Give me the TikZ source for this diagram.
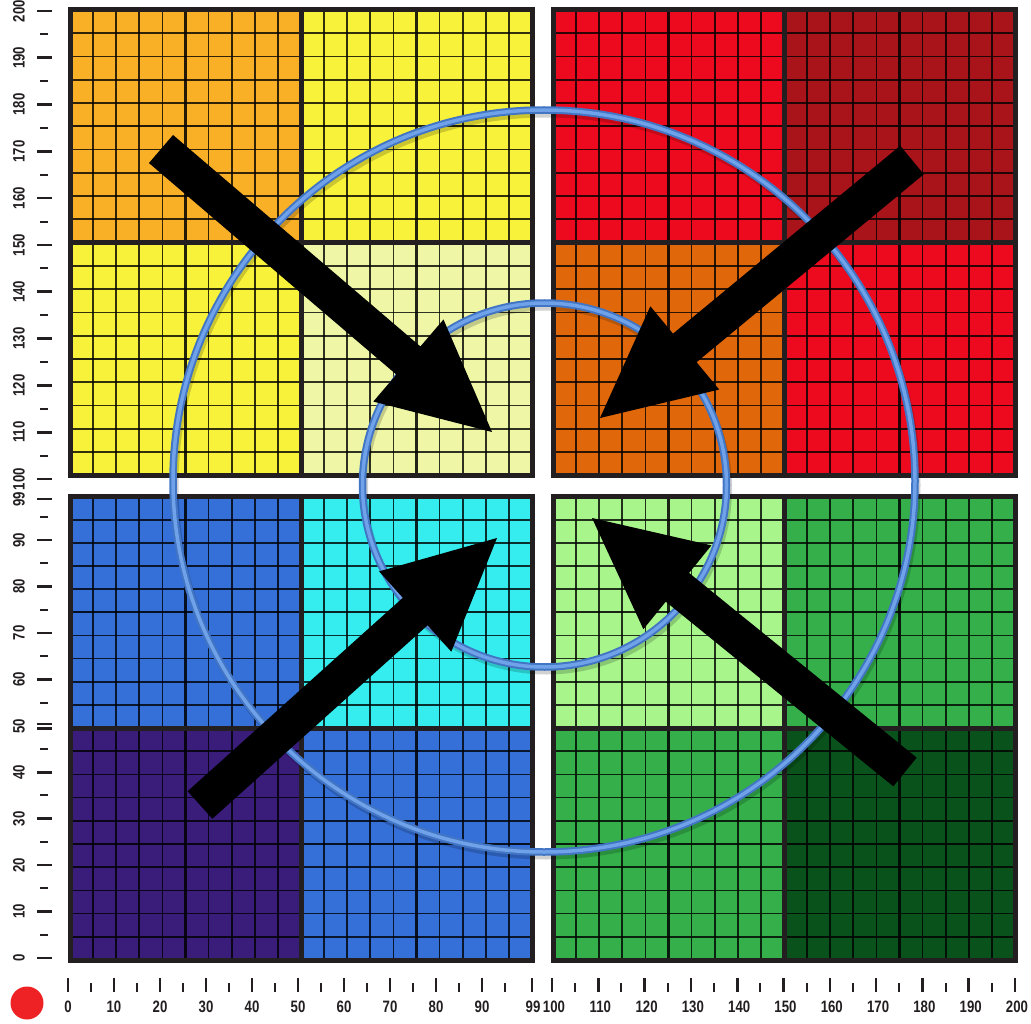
\documentclass[tikz,border=0pt]{standalone}
\usepackage{fontspec}
\newfontfamily\axisfont{Liberation Sans}[FakeStretch=0.8]
\usetikzlibrary{calc}
\definecolor{cOrange}{HTML}{F9B026}
\definecolor{cYellow}{HTML}{F8F23A}
\definecolor{cPale}{HTML}{EFF7A6}
\definecolor{cRed}{HTML}{EE0A1E}
\definecolor{cDarkRed}{HTML}{A8141A}
\definecolor{cDarkOrange}{HTML}{E0680A}
\definecolor{cBlue}{HTML}{3470D8}
\definecolor{cCyan}{HTML}{35EDEE}
\definecolor{cIndigo}{HTML}{3A1C7A}
\definecolor{cLightGreen}{HTML}{A8F58C}
\definecolor{cGreen}{HTML}{34AF4A}
\definecolor{cDarkGreen}{HTML}{0A521C}
\definecolor{cInk}{HTML}{231F20}
\definecolor{cRingDark}{HTML}{4275C4}
\definecolor{cRingLight}{HTML}{6FA2E8}
\definecolor{cDot}{HTML}{EE2224}
\tikzset{
  cellline/.style={draw=black, draw opacity=0.8, line width=1.7pt},
  midline/.style={draw=black, draw opacity=0.85, line width=2.2pt},
  blockline/.style={draw=cInk, line width=5pt, line join=miter},
  majortick/.style={draw=cInk, line width=2.6pt},
  minortick/.style={draw=cInk, line width=2pt},
  axlabel/.style={text=cInk, inner sep=0pt, font=\axisfont\bfseries\fontsize{16.5}{16.5}\selectfont},
  ringshadow/.style={draw=black, draw opacity=0.18, line width=7pt},
  ringouter/.style={draw=cRingDark, line width=7.5pt},
  ringinner/.style={draw=cRingLight, line width=3.5pt},
  arrowfill/.style={fill=black},
}
\newcommand\gridblock[5]{%
  \fill[#5] (#1,#2) rectangle (#3,#4);
  \foreach \i in {1,2,3,4,6,7,8,9} {
    \draw[cellline] ({#1+(#3-#1)*\i/10},#2) -- ({#1+(#3-#1)*\i/10},#4);
    \draw[cellline] (#1,{#2+(#4-#2)*\i/10}) -- (#3,{#2+(#4-#2)*\i/10});
  }
  \draw[midline] ({(#1+#3)/2},#2) -- ({(#1+#3)/2},#4);
  \draw[midline] (#1,{(#2+#4)/2}) -- (#3,{(#2+#4)/2});
  \draw[blockline] (#1,#2) rectangle (#3,#4);
}
\newcommand\fatarrow[2]{%
  \coordinate (#1b) at ($(#2)!110pt!(#1)$);
  \fill[arrowfill] ($(#1)!18.5pt!90:(#2)$) -- ($(#1b)!18.5pt!90:(#2)$)
    -- ($(#1b)!54pt!90:(#2)$) -- (#2) -- ($(#1b)!54pt!-90:(#2)$)
    -- ($(#1b)!18.5pt!-90:(#2)$) -- ($(#1)!18.5pt!-90:(#2)$) -- cycle;
}
\begin{document}
\begin{tikzpicture}[x=1pt,y=-1pt]
\useasboundingbox (0,0) rectangle (1031,1024);
\fill[white] (0,0) rectangle (1031,1024);
% top-left quadrant
\gridblock{70}{10}{301}{242.5}{cOrange}
\gridblock{301}{10}{532}{242.5}{cYellow}
\gridblock{70}{242.5}{301}{475.5}{cYellow}
\gridblock{301}{242.5}{532}{475.5}{cPale}
% top-right quadrant
\gridblock{553}{10}{784}{242.5}{cRed}
\gridblock{784}{10}{1015}{242.5}{cDarkRed}
\gridblock{553}{242.5}{784}{475.5}{cDarkOrange}
\gridblock{784}{242.5}{1015}{475.5}{cRed}
% bottom-left quadrant
\gridblock{70}{496.5}{301}{728}{cBlue}
\gridblock{301}{496.5}{532}{728}{cCyan}
\gridblock{70}{728}{301}{960}{cIndigo}
\gridblock{301}{728}{532}{960}{cBlue}
% bottom-right quadrant
\gridblock{553}{496.5}{784}{728}{cLightGreen}
\gridblock{784}{496.5}{1015}{728}{cGreen}
\gridblock{553}{728}{784}{960}{cGreen}
\gridblock{784}{728}{1015}{960}{cDarkGreen}
% x axis
\foreach \v in {0,10,...,90} {
  \draw[majortick] ({68+4.6*\v},978) -- ({68+4.6*\v},992);
  \node[axlabel] (xl\v) at ({68+4.6*\v},1007) {\v};
}
\foreach \v in {5,15,...,95} {
  \draw[minortick] ({68+4.6*\v},983) -- ({68+4.6*\v},992);
}
\draw[majortick] (532,978) -- (532,992);
\node[axlabel] (xl99) at (533,1007) {99};
\foreach \v in {100,110,...,200} {
  \draw[majortick] ({552+4.63*(\v-100)},978) -- ({552+4.63*(\v-100)},992);
  \node[axlabel] (xl\v) at ({554+4.63*(\v-100)},1007) {\v};
}
\foreach \v in {105,115,...,195} {
  \draw[minortick] ({552+4.63*(\v-100)},983) -- ({552+4.63*(\v-100)},992);
}
% y axis
\foreach \v in {110,120,...,200} {
  \draw[majortick] (37,{11+4.68*(200-\v)}) -- (52,{11+4.68*(200-\v)});
  \node[axlabel,rotate=90] (yl\v) at (19,{11+4.68*(200-\v)}) {\v};
}
\foreach \v in {105,115,...,195} {
  \draw[minortick] (40,{11+4.68*(200-\v)}) -- (48,{11+4.68*(200-\v)});
}
\draw[majortick] (37,479) -- (52,479);
\node[axlabel,rotate=90] (yl100) at (19,479) {100};
\draw[majortick] (37,499) -- (52,499);
\node[axlabel,rotate=90] (yl99) at (19,499) {99};
\foreach \v in {0,10,20,30,40,60,70,80,90} {
  \draw[majortick] (37,{958-4.644*\v}) -- (52,{958-4.644*\v});
  \node[axlabel,rotate=90] (yl\v) at (19,{958-4.644*\v}) {\v};
}
\draw[majortick] (37,724) -- (52,724);
\draw[majortick] (37,728.5) -- (52,728.5);
\node[axlabel,rotate=90] (yl50) at (19,726) {50};
\foreach \v in {5,15,...,95} {
  \draw[minortick] (40,{958-4.644*\v}) -- (48,{958-4.644*\v});
}
% red dot
\node[circle, fill=cDot, minimum size=33pt, inner sep=0pt] (dot) at (27,1003) {};
% rings
\coordinate (bigc) at (544,481);
\coordinate (smallc) at (544.5,485);
\draw[ringshadow] ($(bigc)+(2,4)$) circle[radius=371pt];
\draw[ringshadow] ($(smallc)+(2,4)$) circle[radius=182pt];
\draw[ringouter] (bigc) circle[radius=371pt];
\draw[ringinner] (bigc) circle[radius=371pt];
\draw[ringouter] (smallc) circle[radius=182pt];
\draw[ringinner] (smallc) circle[radius=182pt];
% arrows
\coordinate (ta) at (161,149); \coordinate (ha) at (492,432);
\coordinate (tb) at (912,160); \coordinate (hb) at (600,418);
\coordinate (tc) at (200,805); \coordinate (hc) at (497,538);
\coordinate (td) at (905,772); \coordinate (hd) at (592,518);
\fatarrow{ta}{ha}
\fatarrow{tb}{hb}
\fatarrow{tc}{hc}
\fatarrow{td}{hd}
\end{tikzpicture}
\end{document}
